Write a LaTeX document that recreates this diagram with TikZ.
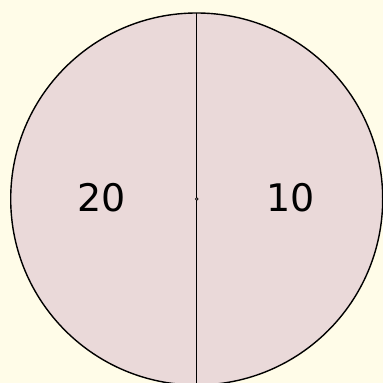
\documentclass[tikz,border=0pt]{standalone}
\usepackage{fontspec}
\setmainfont{DejaVu Sans}
\definecolor{bgc}{HTML}{FFFCE8}
\definecolor{slicec}{HTML}{EAD9D9}
\begin{document}
\begin{tikzpicture}[x=1pt,y=1pt,
  lbl/.style={font=\fontsize{38}{44}\selectfont, text=black}]
\useasboundingbox (0,0) rectangle (383,383);
\fill[bgc] (0,0) rectangle (383,383);
\begin{scope}
\clip (0,0) rectangle (383,383);
\coordinate (c) at (196.7,184);
\draw[fill=slicec, line width=1.4pt] (c) circle[radius=186];
\coordinate (top) at (196.7,370);
\coordinate (bot) at (196.7,-2);
\draw[line width=1.4pt] (top) -- (bot);
\fill[black] (c) circle[radius=1.8];
\fill[slicec] (c) circle[radius=0.7];
\end{scope}
\node[lbl] (a) at (102,185) {20};
\node[lbl] (b) at (291,185) {10};
\end{tikzpicture}
\end{document}
